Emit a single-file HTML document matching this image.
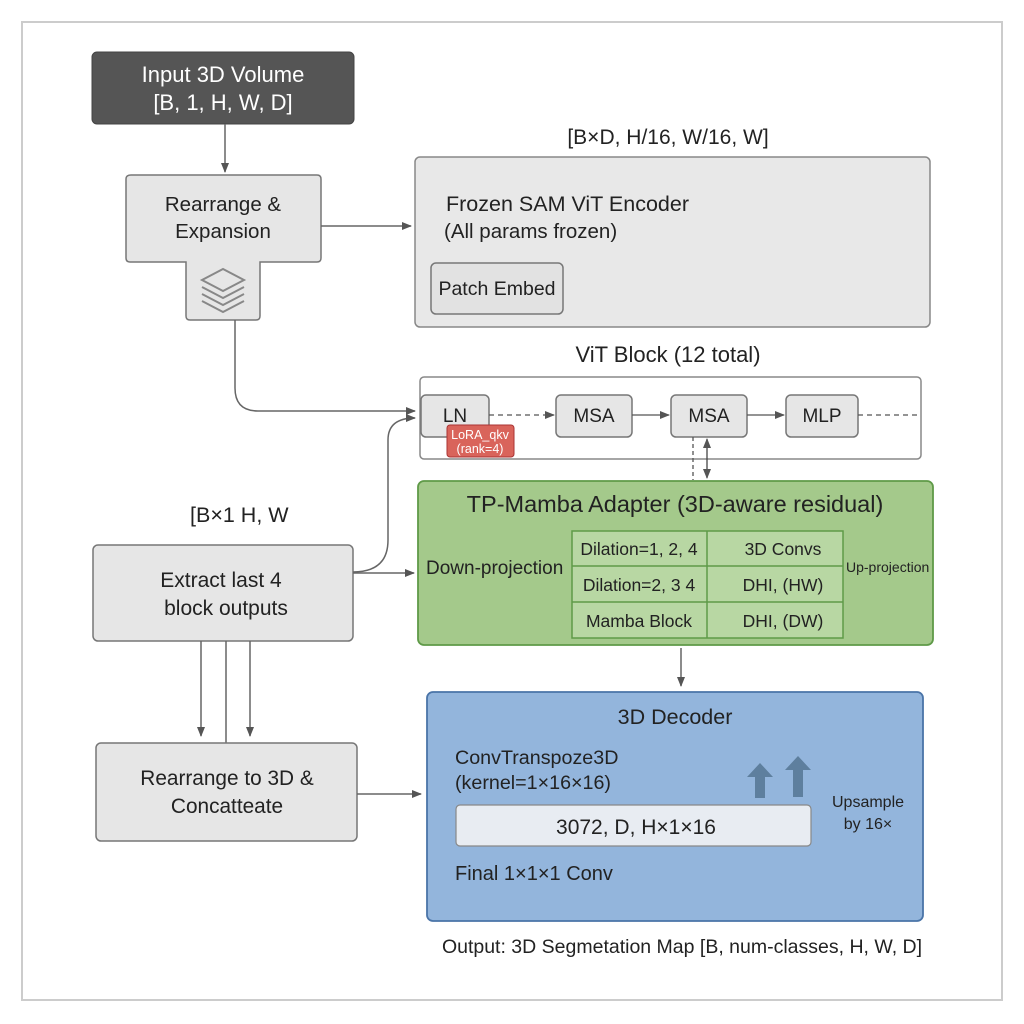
<!DOCTYPE html>
<html><head><meta charset="utf-8"><style>
html,body{margin:0;padding:0;background:#fff}
svg{display:block}
text{font-family:"Liberation Sans",sans-serif;fill:#222}
</style></head><body>
<svg width="1024" height="1024" viewBox="0 0 1024 1024" xmlns="http://www.w3.org/2000/svg">
<defs>
<marker id="a" markerWidth="10" markerHeight="10" refX="9" refY="5" orient="auto" markerUnits="userSpaceOnUse"><path d="M0,1 L10,5 L0,9 z" fill="#555"/></marker>
<marker id="b" markerWidth="10" markerHeight="10" refX="1" refY="5" orient="auto" markerUnits="userSpaceOnUse"><path d="M10,1 L0,5 L10,9 z" fill="#555"/></marker>
</defs>
<rect x="22" y="22" width="980" height="978" fill="#fff" stroke="#ccc" stroke-width="2"/>

<rect x="92" y="52" width="262" height="72" rx="5" fill="#555" stroke="#444"/>
<text x="223" y="82" font-size="22" text-anchor="middle" style="fill:#fff">Input 3D Volume</text>
<text x="223" y="110" font-size="22" text-anchor="middle" style="fill:#fff">[B, 1, H, W, D]</text>
<line x1="225" y1="124" x2="225" y2="172" stroke="#666" stroke-width="1.5" marker-end="url(#a)"/>

<path d="M131,175 H317 Q321,175 321,179 V258 Q321,262 317,262 H260 V316 Q260,320 256,320 H190 Q186,320 186,316 V262 H130 Q126,262 126,258 V179 Q126,175 131,175 Z" fill="#e6e6e6" stroke="#777" stroke-width="1.5"/>
<text x="223" y="211" font-size="20.5" text-anchor="middle">Rearrange &amp;</text>
<text x="223" y="238" font-size="20.5" text-anchor="middle">Expansion</text>
<g fill="none" stroke="#888" stroke-width="2">
<path d="M202,280 L223,269 L244,280 L223,291 Z"/>
<path d="M202,287 L223,298 L244,287"/>
<path d="M202,294 L223,305 L244,294"/>
<path d="M202,301 L223,312 L244,301"/>
</g>
<line x1="321" y1="226" x2="411" y2="226" stroke="#666" stroke-width="1.5" marker-end="url(#a)"/>
<path d="M235,320 V388 Q235,411 258,411 H415" fill="none" stroke="#666" stroke-width="1.5" marker-end="url(#a)"/>

<text x="668" y="144" font-size="21" text-anchor="middle">[B×D, H/16, W/16, W]</text>
<rect x="415" y="157" width="515" height="170" rx="5" fill="#e8e8e8" stroke="#888" stroke-width="1.5"/>
<text x="446" y="211" font-size="21.5">Frozen SAM ViT Encoder</text>
<text x="444" y="238" font-size="20.5">(All params frozen)</text>
<rect x="431" y="263" width="132" height="51" rx="5" fill="#e2e2e2" stroke="#777" stroke-width="1.5"/>
<text x="497" y="295" font-size="19.5" text-anchor="middle">Patch Embed</text>

<text x="668" y="362" font-size="22" text-anchor="middle">ViT Block (12 total)</text>
<rect x="420" y="377" width="501" height="82" rx="4" fill="#fff" stroke="#888" stroke-width="1.5"/>
<rect x="421" y="395" width="68" height="42" rx="5" fill="#e6e6e6" stroke="#777" stroke-width="1.5"/>
<text x="455" y="422" font-size="19" text-anchor="middle">LN</text>
<rect x="447" y="425" width="67" height="32" rx="3" fill="#d9645b" stroke="#a33" stroke-width="1"/>
<text x="480" y="439" font-size="12.5" text-anchor="middle" style="fill:#fff">LoRA_qkv</text>
<text x="480" y="453" font-size="12.5" text-anchor="middle" style="fill:#fff">(rank=4)</text>
<rect x="556" y="395" width="76" height="42" rx="5" fill="#e6e6e6" stroke="#777" stroke-width="1.5"/>
<text x="594" y="422" font-size="19" text-anchor="middle">MSA</text>
<rect x="671" y="395" width="76" height="42" rx="5" fill="#e6e6e6" stroke="#777" stroke-width="1.5"/>
<text x="709" y="422" font-size="19" text-anchor="middle">MSA</text>
<rect x="786" y="395" width="72" height="42" rx="5" fill="#e6e6e6" stroke="#777" stroke-width="1.5"/>
<text x="822" y="422" font-size="19" text-anchor="middle">MLP</text>
<line x1="489" y1="415" x2="554" y2="415" stroke="#555" stroke-width="1.3" stroke-dasharray="5,4" marker-end="url(#a)"/>
<line x1="632" y1="415" x2="669" y2="415" stroke="#555" stroke-width="1.3" marker-end="url(#a)"/>
<line x1="747" y1="415" x2="784" y2="415" stroke="#555" stroke-width="1.3" marker-end="url(#a)"/>
<line x1="858" y1="415" x2="920" y2="415" stroke="#555" stroke-width="1.3" stroke-dasharray="5,4"/>
<line x1="693" y1="437" x2="693" y2="480" stroke="#555" stroke-width="1.3" stroke-dasharray="4,3"/>
<line x1="707" y1="439" x2="707" y2="478" stroke="#444" stroke-width="1.3" marker-start="url(#b)" marker-end="url(#a)"/>

<rect x="418" y="481" width="515" height="164" rx="6" fill="#a4c98b" stroke="#5f9a48" stroke-width="1.8"/>
<text x="675" y="512" font-size="23.5" text-anchor="middle">TP-Mamba Adapter (3D-aware residual)</text>
<text x="426" y="574" font-size="19">Down-projection</text>
<text x="846" y="572" font-size="14">Up-projection</text>
<g stroke="#5f9a48" stroke-width="1.5">
<rect x="572" y="531" width="271" height="107" fill="#b8d7a3"/>
<line x1="707" y1="531" x2="707" y2="638"/>
<line x1="572" y1="566" x2="843" y2="566"/>
<line x1="572" y1="602" x2="843" y2="602"/>
</g>
<text x="639" y="555" font-size="17.5" text-anchor="middle">Dilation=1, 2, 4</text>
<text x="783" y="555" font-size="17.5" text-anchor="middle">3D Convs</text>
<text x="639" y="591" font-size="17.5" text-anchor="middle">Dilation=2, 3 4</text>
<text x="783" y="591" font-size="17.5" text-anchor="middle">DHI, (HW)</text>
<text x="639" y="627" font-size="17.5" text-anchor="middle">Mamba Block</text>
<text x="783" y="627" font-size="17.5" text-anchor="middle">DHI, (DW)</text>

<text x="190" y="522" font-size="21.5">[B×1 H, W</text>
<rect x="93" y="545" width="260" height="96" rx="5" fill="#e6e6e6" stroke="#777" stroke-width="1.5"/>
<text x="221" y="587" font-size="21" text-anchor="middle">Extract last 4</text>
<text x="226" y="615" font-size="21" text-anchor="middle">block outputs</text>
<line x1="353" y1="573" x2="414" y2="573" stroke="#666" stroke-width="1.5" marker-end="url(#a)"/>
<path d="M353,572 Q388,572 388,540 V440 Q388,418 415,418" fill="none" stroke="#666" stroke-width="1.5" marker-end="url(#a)"/>
<line x1="201" y1="641" x2="201" y2="736" stroke="#666" stroke-width="1.5" marker-end="url(#a)"/>
<line x1="226" y1="641" x2="226" y2="743" stroke="#666" stroke-width="1.5"/>
<line x1="250" y1="641" x2="250" y2="736" stroke="#666" stroke-width="1.5" marker-end="url(#a)"/>
<line x1="681" y1="648" x2="681" y2="686" stroke="#666" stroke-width="1.5" marker-end="url(#a)"/>

<rect x="96" y="743" width="261" height="98" rx="5" fill="#e6e6e6" stroke="#777" stroke-width="1.5"/>
<text x="227" y="785" font-size="20.8" text-anchor="middle">Rearrange to 3D &amp;</text>
<text x="227" y="813" font-size="20.8" text-anchor="middle">Concatteate</text>
<line x1="357" y1="794" x2="421" y2="794" stroke="#666" stroke-width="1.5" marker-end="url(#a)"/>

<rect x="427" y="692" width="496" height="229" rx="6" fill="#93b5dc" stroke="#4a74a8" stroke-width="1.8"/>
<text x="675" y="724" font-size="21.5" text-anchor="middle">3D Decoder</text>
<text x="455" y="764" font-size="19.7">ConvTranspoze3D</text>
<text x="455" y="789" font-size="19.7">(kernel=1×16×16)</text>
<rect x="456" y="805" width="355" height="41" rx="4" fill="#e8ecf2" stroke="#888" stroke-width="1.2"/>
<text x="636" y="834" font-size="21" text-anchor="middle">3072,  D, H×1×16</text>
<text x="455" y="880" font-size="20">Final 1×1×1 Conv</text>
<path d="M760,763 L773,777 L765,777 L765,798 L755,798 L755,777 L747,777 Z" fill="#5e7f9e"/>
<path d="M798,756 L811,770 L803,770 L803,797 L793,797 L793,770 L785,770 Z" fill="#5e7f9e"/>
<text x="868" y="807" font-size="16" text-anchor="middle">Upsample</text>
<text x="868" y="829" font-size="16" text-anchor="middle">by 16×</text>

<text x="682" y="953" font-size="19.5" text-anchor="middle">Output: 3D Segmetation Map [B, num-classes, H, W, D]</text>
</svg>
</body></html>
